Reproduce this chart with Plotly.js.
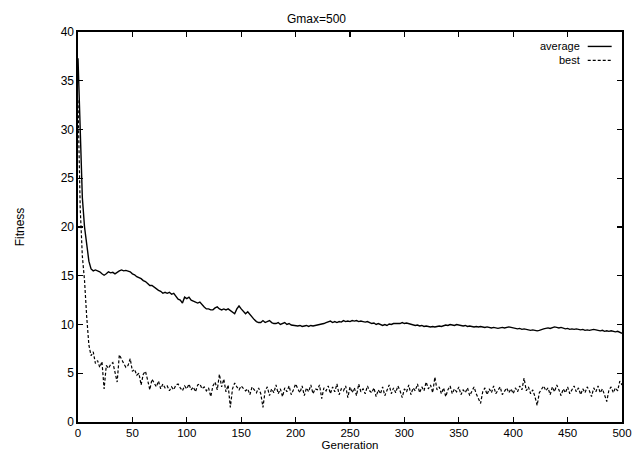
<!DOCTYPE html>
<html>
<head>
<meta charset="utf-8">
<script src="https://cdn.plot.ly/plotly-3.0.1.min.js"></script>
<style>html,body{margin:0;padding:0;background:#fff;}#chart{width:633px;height:451px;}</style>
</head>
<body>
<div id="chart"></div>
<script>
// Generation step between stored samples
var genStep = 2;

// Average fitness, sampled every 2 generations (0..500)
var averageFitness = [
37.3,29.0,23.0,20.0,18.2,16.5,15.7,15.5,15.6,15.5,
15.4,15.2,15.05,15.2,15.4,15.3,15.35,15.2,15.4,15.5,
15.6,15.5,15.55,15.45,15.4,15.2,15.1,14.9,14.8,14.7,
14.5,14.4,14.2,14.0,14.0,13.8,13.6,13.5,13.4,13.2,
13.3,13.2,13.3,13.1,13.2,12.9,12.6,12.5,12.2,12.8,
12.65,12.8,12.5,12.4,12.3,12.2,12.3,12.0,11.8,11.6,
11.6,11.5,11.5,11.7,11.8,11.6,11.5,11.6,11.5,11.6,
11.45,11.3,11.1,11.6,11.9,11.6,11.3,11.1,11.3,11.0,
10.7,10.5,10.3,10.2,10.2,10.4,10.2,10.3,10.4,10.2,
10.1,10.1,10.2,10.0,10.1,10.2,10.0,10.1,9.95,9.9,
9.9,9.85,9.9,9.8,9.85,9.9,9.8,9.9,9.85,9.9,
9.9,9.95,10.0,10.1,10.2,10.3,10.35,10.2,10.3,10.2,
10.3,10.25,10.4,10.3,10.35,10.3,10.4,10.35,10.4,10.3,
10.35,10.3,10.25,10.3,10.2,10.1,10.15,10.0,10.1,10.0,
9.9,10.0,9.9,10.05,10.0,10.1,10.1,10.15,10.1,10.2,
10.1,10.15,10.1,10.0,9.95,9.9,9.95,9.85,9.9,9.8,
9.85,9.8,9.75,9.8,9.75,9.8,9.85,9.8,9.9,9.95,
9.9,10.0,9.95,9.9,10.0,9.95,9.9,9.85,9.9,9.8,
9.85,9.8,9.75,9.8,9.75,9.8,9.75,9.7,9.75,9.7,
9.65,9.7,9.65,9.6,9.65,9.7,9.65,9.7,9.75,9.7,
9.65,9.6,9.55,9.6,9.5,9.55,9.5,9.45,9.4,9.45,
9.4,9.35,9.4,9.5,9.55,9.6,9.65,9.6,9.7,9.75,
9.7,9.65,9.7,9.6,9.55,9.6,9.5,9.55,9.5,9.55,
9.5,9.45,9.5,9.4,9.45,9.4,9.45,9.5,9.45,9.4,
9.35,9.4,9.3,9.35,9.3,9.35,9.3,9.25,9.3,9.2,
9.1
];

// Best fitness, sampled every 2 generations (0..500)
var bestFitness = [
33.0,22.0,17.0,14.5,10.8,7.9,6.8,7.2,6.0,6.3,
5.6,6.2,3.4,5.8,5.5,5.9,6.1,5.2,4.1,6.9,
6.4,6.0,5.6,5.8,6.5,5.2,5.4,4.8,5.0,3.8,
4.9,5.2,4.3,3.3,4.4,4.0,3.6,4.2,3.4,3.9,
3.5,3.7,3.2,3.6,3.3,3.8,3.9,3.5,3.2,3.7,
3.4,3.9,3.3,3.6,3.1,3.8,3.9,3.4,3.6,3.2,
3.5,2.6,3.7,4.1,3.3,4.9,3.6,4.4,3.1,3.8,
1.5,3.4,4.0,3.6,3.3,3.7,3.5,3.2,3.4,2.8,
3.6,3.3,3.0,3.5,2.9,1.5,3.2,3.6,2.7,3.4,
3.0,3.8,2.9,3.4,2.6,3.5,3.1,3.7,2.8,3.3,
3.9,3.4,3.0,3.7,2.7,3.5,3.1,3.8,2.9,3.4,
3.3,3.8,2.4,3.5,3.2,3.7,2.9,3.6,3.1,3.9,
2.8,3.4,3.2,3.7,2.5,3.6,3.0,3.5,2.7,3.9,
3.1,3.4,2.9,3.7,3.2,3.0,3.5,2.6,3.3,2.9,
3.6,2.7,3.2,3.8,2.9,3.5,3.0,3.7,3.2,2.5,
3.4,3.1,3.8,2.8,3.5,3.2,3.9,3.0,3.6,3.2,
4.1,3.4,3.8,3.0,4.6,3.3,3.6,2.9,3.5,2.6,
3.3,3.7,2.9,3.4,3.1,3.6,2.8,3.3,3.0,3.5,
2.7,3.2,3.6,2.9,2.4,1.9,3.1,3.5,2.8,3.4,
3.0,3.7,2.9,3.3,3.6,2.8,3.2,3.5,3.0,3.4,
2.9,3.5,3.1,3.7,3.3,4.5,3.2,3.6,2.9,3.3,
2.6,1.7,3.0,3.4,3.7,3.2,3.5,2.8,3.6,3.1,
3.8,3.3,2.7,3.4,3.0,3.6,2.9,3.3,3.7,3.1,
3.5,2.8,3.4,3.0,3.6,3.2,2.6,3.5,3.1,3.7,
3.0,3.4,2.7,2.1,3.3,3.6,3.0,3.5,3.2,4.2,
3.8
];

var seriesNames = ["average", "best"];
var xTickValues = [0,50,100,150,200,250,300,350,400,450,500];
var yTickValues = [0,5,10,15,20,25,30,35,40];
var chartTitle = "Gmax=500";
var xLabel = "Generation";
var yLabel = "Fitness";

function gens(arr){ return arr.map(function(_, i){ return i * genStep; }); }

var FONT = "Liberation Sans, Arial, Helvetica, sans-serif";
var FS = 12;

var traces = [
  {x: gens(averageFitness), y: averageFitness, type: "scatter", mode: "lines",
   name: seriesNames[0], line: {color: "#000", width: 1.4}, showlegend: false},
  {x: gens(bestFitness), y: bestFitness, type: "scatter", mode: "lines",
   name: seriesNames[1], line: {color: "#000", width: 1.2, dash: "3px,2px"}, showlegend: false}
];

var axisCommon = {
  showgrid: false, zeroline: false, showline: true, linecolor: "#000", linewidth: 1.6,
  mirror: "allticks", ticks: "inside", ticklen: 5, tickwidth: 1.2, tickcolor: "#000",
  tickfont: {family: FONT, size: FS, color: "#000"}
};

var layout = {
  width: 633, height: 451,
  margin: {l: 78, r: 11, t: 32, b: 29, pad: 0},
  paper_bgcolor: "#fff", plot_bgcolor: "#fff",
  title: {text: chartTitle, font: {family: FONT, size: FS, color: "#000"}, x: 0.5, xref: "container", y: 0.958, yanchor: "middle"},
  xaxis: Object.assign({}, axisCommon, {range: [0, 500], tickvals: xTickValues,
    tickfont: {family: FONT, size: 11.5, color: "#000"},
    title: {text: xLabel, font: {family: FONT, size: 11.5, color: "#000"}, standoff: 2}}),
  yaxis: Object.assign({}, axisCommon, {range: [0, 40], tickvals: yTickValues,
    title: {text: yLabel, font: {family: FONT, size: FS, color: "#000"}, standoff: 33}}),
  annotations: [
    {text: seriesNames[0], xref: "paper", yref: "paper", x: 0.926, y: 0.963, xanchor: "right", yanchor: "middle", showarrow: false, font: {family: FONT, size: 11, color: "#000"}},
    {text: seriesNames[1], xref: "paper", yref: "paper", x: 0.926, y: 0.927, xanchor: "right", yanchor: "middle", showarrow: false, font: {family: FONT, size: 11, color: "#000"}}
  ],
  shapes: [
    {type: "line", xref: "paper", yref: "paper", x0: 0.937, x1: 0.981, y0: 0.963, y1: 0.963, line: {color: "#000", width: 1.4}},
    {type: "line", xref: "paper", yref: "paper", x0: 0.937, x1: 0.981, y0: 0.927, y1: 0.927, line: {color: "#000", width: 1.2, dash: "3px,2px"}}
  ]
};

Plotly.newPlot("chart", traces, layout, {displayModeBar: false, staticPlot: true});
</script>
</body>
</html>
